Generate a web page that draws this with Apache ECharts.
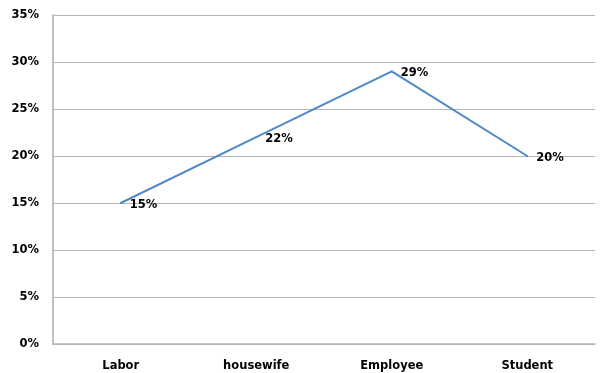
<!DOCTYPE html>
<html><head><meta charset="utf-8">
<script src="https://cdn.jsdelivr.net/npm/echarts@6/dist/echarts.min.js"></script>
<style>html,body{margin:0;padding:0;background:#fff}#c{width:600px;height:373px}</style>
</head><body><div id="c"></div>
<script>
const categories = ["Labor", "housewife", "Employee", "Student"];
const values = [15, 22, 29, 20];
const yTicks = [0, 5, 10, 15, 20, 25, 30, 35];

const chart = echarts.init(document.getElementById('c'), null, {renderer: 'canvas'});
const font = {fontFamily: 'DejaVu Sans', fontWeight: 'bold', fontSize: 11.5, color: '#000'};
chart.setOption({
  animation: false,
  grid: {left: 53, right: 5, top: 15, bottom: 29, containLabel: false},
  xAxis: {
    type: 'category', data: categories, boundaryGap: true,
    axisLine: {show: true, lineStyle: {color: '#b4b4b4', width: 1.5}},
    axisTick: {show: false},
    axisLabel: Object.assign({margin: 16}, font)
  },
  yAxis: {
    type: 'value', min: yTicks[0], max: yTicks[yTicks.length - 1], interval: 5,
    axisLine: {show: true, lineStyle: {color: '#c0c0c0', width: 2}},
    axisTick: {show: false},
    splitLine: {lineStyle: {color: '#b4b4b4', width: 1}},
    axisLabel: Object.assign({margin: 14, formatter: v => v + '%'}, font)
  },
  series: [{
    type: 'line', data: values, symbol: 'circle', symbolSize: 2, showSymbol: true,
    itemStyle: {color: '#4f88c6', borderWidth: 0},
    lineStyle: {color: '#4f88c6', width: 2},
    label: {show: true, position: 'right', distance: 8, offset: [0, 2], formatter: p => p.value + '%',
      fontFamily: 'DejaVu Sans', fontWeight: 'bold', fontSize: 11.5, color: '#000'}
  }]
});
</script></body></html>
